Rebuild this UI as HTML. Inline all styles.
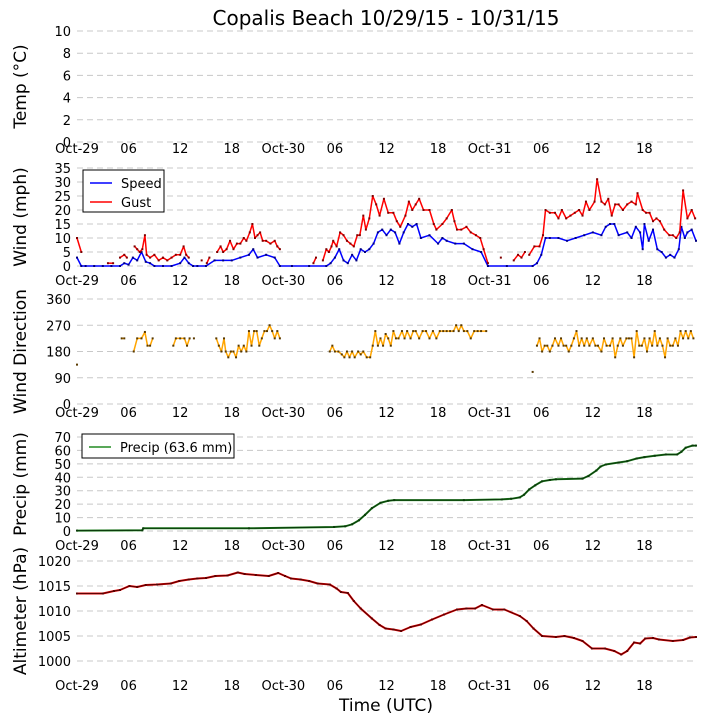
<!DOCTYPE html>
<html><head><meta charset="utf-8"><style>
html,body{margin:0;padding:0;background:#fff;}
svg{display:block;font-family:"DejaVu Sans","Liberation Sans",sans-serif;}
</style></head><body>
<svg id="chart" width="705" height="725" viewBox="0 0 705 725" xmlns="http://www.w3.org/2000/svg">
<text x="386" y="25" font-size="20" text-anchor="middle">Copalis Beach 10/29/15 - 10/31/15</text>
<g id="layer"></g>
<text x="386" y="711" font-size="17" text-anchor="middle">Time (UTC)</text>
</svg>
<script>
const timeTickLabels = ["Oct-29","06","12","18","Oct-30","06","12","18","Oct-31","06","12","18"];
const tempTicks = [0,2,4,6,8,10];
const windTicks = [0,5,10,15,20,25,30,35];
const dirTicks = [0,90,180,270,360];
const precipTicks = [0,10,20,30,40,50,60,70];
const altTicks = [1000,1005,1010,1015,1020];

const speedData = [[0,3],[0.5,0],[1,0],[2,0],[3,0],[4,0],[5,0],[5.5,1],[6,0.5],[6.5,3],[7,2],[7.5,5],[8,1.5],[8.5,1],[9,0],[10,0],[11,0],[12,1],[12.5,3],[13,1],[13.5,0],[14,0],[15,0],[16,2],[17,2],[18,2],[19,3],[20,4],[20.5,6],[21,3],[22,4],[23,3],[23.6,0],[25,0],[27,0],[29,0],[29.5,1],[30,3],[30.5,6],[31,2],[31.5,1],[32,4],[32.5,2],[33,6],[33.5,5],[34,6],[34.5,8],[35,12],[35.5,13],[36,11],[36.5,13],[37,12],[37.5,8],[38,12],[38.5,15],[39,14],[39.5,15],[40,10],[41,11],[42,8],[42.5,10],[43,9],[44,8],[45,8],[46,6],[47,5],[47.8,0],[50,0],[53,0],[53.5,1],[54,4],[54.5,10],[55,10],[56,10],[57,9],[58,10],[59,11],[60,12],[61,11],[61.5,14],[62,15],[62.5,15],[63,11],[64,12],[64.5,10],[65,14],[65.5,12],[65.8,6],[66,15],[66.5,9],[67,13],[67.5,6],[68,5],[68.5,3],[69,4],[69.5,3],[70,6],[70.3,14],[70.7,10],[71,12],[71.5,13],[72,9]];
const gustData = [[0,10],[0.5,5],[1,null],[3.6,1],[4.2,1],[4.5,null],[5,3],[5.5,4],[5.8,3],[6,null],[6.7,7],[7,6],[7.3,5],[7.6,6],[7.9,11],[8.1,4],[8.5,3],[9,4],[9.5,2],[10,3],[10.5,2],[11,3],[11.5,4],[12,4],[12.4,7],[12.7,4],[13,3],[13.2,null],[14.5,2],[14.8,null],[15.1,1],[15.4,3],[15.6,null],[16.3,5],[16.7,7],[17,5],[17.4,6],[17.8,9],[18.2,6],[18.6,8],[19,8],[19.4,10],[19.7,9],[20.1,12],[20.4,15],[20.7,10],[21,11],[21.3,12],[21.6,9],[22,9],[22.5,8],[23,9],[23.3,7],[23.6,6],[23.8,null],[27.5,1],[27.8,3],[28,null],[28.6,2],[29,6],[29.3,5],[29.6,7],[29.8,9],[30.2,7],[30.6,12],[31,11],[31.4,9],[31.8,8],[32.2,7],[32.6,11],[32.9,11],[33.3,18],[33.6,13],[34,17],[34.4,25],[34.8,22],[35.2,18],[35.7,24],[36.2,19],[36.8,19],[37.2,16],[37.6,14],[38.2,18],[38.6,23],[39,20],[39.4,22],[39.8,24],[40.3,20],[41,20],[41.5,15],[41.8,13],[42.5,15],[43,17],[43.6,20],[43.9,16],[44.2,13],[44.7,13],[45.3,14],[45.8,12],[46.4,11],[46.9,10],[47.3,6],[47.8,1],[48,null],[49.3,3],[49.5,null],[50.8,2],[51.3,4],[51.7,3],[52.1,5],[52.3,null],[52.6,4],[53.2,7],[53.8,7],[54.2,11],[54.5,20],[55,19],[55.6,19],[56,17],[56.4,20],[56.9,17],[57.4,18],[57.9,19],[58.4,20],[58.8,18],[59.2,23],[59.6,20],[60.2,23],[60.5,31],[61,23],[61.4,22],[61.8,24],[62.2,18],[62.6,22],[63,22],[63.5,20],[64,22],[64.5,23],[65,22],[65.2,26],[65.8,20],[66.2,19],[66.6,19],[67,16],[67.4,17],[67.8,16],[68.3,13],[68.9,11],[69.3,11],[69.7,10],[70.1,12],[70.5,27],[71,17],[71.5,20],[71.9,17]];
const dirData = [[0,135],[0.2,null],[5.2,225],[5.5,225],[5.7,null],[6.6,180],[7,225],[7.5,225],[7.9,247],[8.2,200],[8.5,200],[8.8,225],[8.9,null],[11.2,200],[11.5,225],[12,225],[12.5,225],[12.8,200],[13.1,225],[13.2,null],[13.6,225],[13.7,null],[16.2,225],[16.5,200],[16.8,180],[17.1,225],[17.3,180],[17.6,160],[17.9,180],[18.2,180],[18.5,160],[18.8,200],[19.1,180],[19.4,200],[19.7,180],[20,250],[20.3,200],[20.6,250],[20.9,250],[21.2,200],[21.5,225],[21.8,250],[22.1,250],[22.4,270],[22.7,250],[23,225],[23.3,250],[23.6,225],[23.8,null],[29.4,180],[29.7,200],[30,180],[30.4,180],[30.8,170],[31.1,160],[31.4,180],[31.7,160],[32,180],[32.3,160],[32.7,180],[33,170],[33.3,180],[33.7,160],[34.1,160],[34.4,200],[34.7,250],[35,200],[35.3,225],[35.6,200],[35.9,240],[36.2,225],[36.5,200],[36.8,250],[37.1,225],[37.4,225],[37.8,250],[38.1,225],[38.4,250],[38.8,225],[39.1,250],[39.4,250],[39.8,225],[40.2,250],[40.6,250],[41,225],[41.4,250],[41.8,225],[42.2,250],[42.6,250],[43,250],[43.4,250],[43.8,250],[44.1,270],[44.4,250],[44.7,270],[45,250],[45.4,250],[45.8,225],[46.2,250],[46.6,250],[47,250],[47.6,250],[47.8,null],[53,110],[53.2,null],[53.5,200],[53.8,225],[54.1,180],[54.4,200],[54.7,200],[55,180],[55.3,200],[55.6,225],[56,200],[56.3,225],[56.6,200],[56.9,200],[57.2,180],[57.5,200],[57.8,225],[58.1,250],[58.4,200],[58.7,225],[59,200],[59.3,225],[59.6,200],[60,225],[60.3,200],[60.6,200],[61,180],[61.3,225],[61.6,200],[62,200],[62.3,225],[62.6,160],[62.9,200],[63.2,225],[63.5,200],[63.9,225],[64.2,225],[64.5,225],[64.8,160],[65.1,250],[65.4,200],[65.7,200],[66,225],[66.3,180],[66.6,225],[66.9,200],[67.2,250],[67.5,200],[67.8,225],[68.1,200],[68.4,160],[68.7,225],[69,200],[69.3,200],[69.6,225],[69.9,200],[70.2,250],[70.5,225],[70.8,250],[71.1,225],[71.4,250],[71.7,225]];
const precipData = [[0,0.3],[7.6,0.5],[7.7,2],[20,2],[29.9,3],[31.2,3.5],[32,5],[32.8,8],[33.5,12],[34.3,17],[35.3,21],[36.2,22.5],[36.9,23],[45,23],[49.4,23.5],[50.5,24],[51.5,25],[52,27],[52.6,31],[53.3,34],[54.1,37],[55,38],[55.7,38.5],[58.8,39],[59.5,41],[60.4,45],[60.9,48],[61.5,49.5],[63,51],[64,52],[65.1,54],[66,55],[67.2,56],[68.5,57],[69.8,57],[70.3,59],[70.8,62],[71.6,63.6],[72,63.6]];
const altData = [[0,1013.5],[3,1013.5],[4.3,1014],[5,1014.2],[6.1,1015],[7,1014.8],[8,1015.2],[9.3,1015.3],[10.9,1015.5],[11.9,1016],[13,1016.3],[14,1016.5],[15,1016.6],[16.1,1017],[17.5,1017.1],[18.7,1017.7],[19.5,1017.4],[20.8,1017.2],[22.3,1017],[23.4,1017.6],[24.2,1017],[24.9,1016.5],[26,1016.3],[27,1016],[28,1015.5],[29.4,1015.3],[30.2,1014.5],[30.7,1013.8],[31.5,1013.6],[32.2,1012],[33,1010.5],[34.3,1008.5],[35.2,1007.2],[35.9,1006.5],[36.8,1006.3],[37.7,1006],[38.8,1006.8],[40,1007.3],[41.3,1008.3],[42.7,1009.3],[44.2,1010.3],[45.3,1010.5],[46.3,1010.5],[47.1,1011.2],[48.4,1010.3],[49.7,1010.3],[51.5,1009],[52.3,1008],[53.1,1006.5],[54.1,1005],[55.7,1004.8],[56.7,1005],[57.8,1004.6],[58.8,1004],[59.9,1002.5],[61.4,1002.5],[62.5,1002],[63.3,1001.3],[64,1002],[64.8,1003.7],[65.5,1003.5],[66.1,1004.5],[67,1004.6],[67.7,1004.3],[69.3,1004],[70.5,1004.2],[71.3,1004.7],[72,1004.8]];

const NS="http://www.w3.org/2000/svg";
const layer=document.getElementById('layer');
const X0=77, X1=696, HOURS=72;
function xs(h){return X0+(X1-X0)*h/HOURS;}
function mk(tag,attrs,parent){const e=document.createElementNS(NS,tag);for(const k in attrs)e.setAttribute(k,attrs[k]);(parent||layer).appendChild(e);return e;}

const panels=[
 {name:'temp',top:31,bot:142,min:0,max:10,ticks:tempTicks,title:'Temp (\u00B0C)',labelY:153},
 {name:'wind',top:168,bot:266,min:0,max:35,ticks:windTicks,title:'Wind (mph)',labelY:285},
 {name:'direction',top:299,bot:404,min:0,max:360,ticks:dirTicks,title:'Wind Direction',labelY:417},
 {name:'precip',top:437,bot:531,min:0,max:70,ticks:precipTicks,title:'Precip (mm)',labelY:550},
 {name:'altimeter',top:561,bot:661,min:1000,max:1020,ticks:altTicks,title:'Altimeter (hPa)',labelY:690}
];
function ys(p,v){return p.bot-(p.bot-p.top)*(v-p.min)/(p.max-p.min);}

panels.forEach(p=>{
  const g=mk('g',{});
  
  
  p.g=g;
  p.ticks.forEach(t=>{
    const y=ys(p,t);
    const l=mk('line',{x1:X0,x2:X1,y1:y,y2:y,stroke:'#c8c8c8','stroke-width':1,'stroke-dasharray':'6,4'},g);
    
    
    const tx=mk('text',{x:71,y:y+5,'font-size':13,'text-anchor':'end'},g);
    tx.textContent=t;
    
    
  });
  timeTickLabels.forEach((lab,i)=>{
    const tx=mk('text',{x:xs(i*6),y:p.labelY,'font-size':13,'text-anchor':'middle'},g);
    tx.textContent=lab;
    
    
  });
  const cy=(p.top+p.bot)/2;
  const tt=mk('text',{x:0,y:0,'font-size':17,'text-anchor':'middle',transform:'translate(26,'+cy+') rotate(-90)'},g);
  tt.textContent=p.title;
  
  
});

function series(p,data,color,mcolor,name,darkLine){
  const g=mk('g',{},p.g);
  
  
  let segs=[],cur=[];
  data.forEach(([h,v])=>{
    if(v===null){if(cur.length)segs.push(cur);cur=[];}
    else cur.push([xs(h),ys(p,v)]);
  });
  if(cur.length)segs.push(cur);
  segs.forEach(s=>{
    if(s.length>1){
      const pts=s.map(q=>q[0].toFixed(1)+','+q[1].toFixed(1)).join(' ');
      const pl=mk('polyline',{points:pts,fill:'none',stroke:color,'stroke-width':darkLine?2:1.5,'stroke-linejoin':'round'},g);
      
      
      if(darkLine){
        const d=mk('polyline',{points:pts,fill:'none',stroke:mcolor,'stroke-width':1.2,'stroke-linejoin':'round'},g);
        
        
      }
    }
    s.forEach(q=>{
      const r=mk('rect',{x:q[0]-1,y:q[1]-1,width:2,height:2,fill:mcolor},g);
      
      
    });
  });
}
series(panels[1],speedData,'#0000ff','#000080','speed',false);
series(panels[1],gustData,'#ff0000','#800000','gust',false);
series(panels[2],dirData,'#ffa500','#5a3a00','direction',false);
series(panels[3],precipData,'#228b22','#0b3d0b','precip',true);
series(panels[4],altData,'#ff0000','#600000','altimeter',true);

function legend(x,y,w,h,items,pname){
  const g=mk('g',{});
  
  
  mk('rect',{x:x,y:y,width:w,height:h,fill:'#fff',stroke:'#000','stroke-width':1},g);
  items.forEach((it,i)=>{
    const ly=y+13+i*19;
    const ln=mk('line',{x1:x+7,x2:x+29,y1:ly,y2:ly,stroke:it.c,'stroke-width':1.5},g);
    
    
    const t=mk('text',{x:x+38,y:ly+5,'font-size':13},g);
    t.textContent=it.t;
    
    
  });
}
legend(83,170,81,42,[{t:'Speed',c:'#0000ff'},{t:'Gust',c:'#ff0000'}],'wind');
legend(82,434,152,24,[{t:'Precip (63.6 mm)',c:'#228b22'}],'precip');
</script>
</body></html>
